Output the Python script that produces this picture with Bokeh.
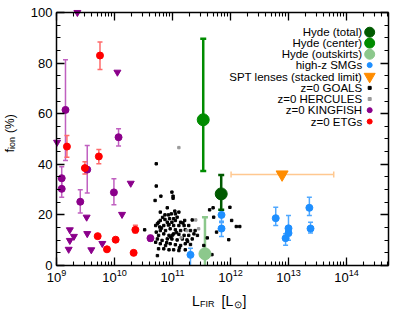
import numpy as np
from bokeh.plotting import figure
from bokeh.models import (ColumnDataSource, Whisker, TeeHead, LogAxis, LinearAxis,
                          LogTicker, SingleIntervalTicker, Range1d, CustomJSTickFormatter)
from bokeh.embed import file_html
from bokeh.resources import INLINE
from bokeh.core.properties import value

# ---------------- data: log10(L_FIR / L_sun), f_ion (%) ----------------
# KINGFISH detections (with error bars)
kf_logL = [9.155, 10.07, 9.53, 9.09, 9.09, 9.41, 9.99, 10.62]
kf_f    = [61.5, 50.7, 37.9, 34.5, 30.3, 25.2, 28.9, 10.8]
kf_lo   = [41.5, 47.2, 28.7, 30.5, 27.0, 20.7, 24.0, 9.7]
kf_hi   = [81.3, 54.0, 47.4, 39.0, 33.5, 29.9, 34.3, 11.9]
# KINGFISH upper limits
kfl_logL = [9.36, 10.05, 9.01, 10.28, 10.13, 9.52, 9.23, 9.23, 9.30, 9.21, 9.53, 9.60, 9.79]
kfl_f    = [100.0, 76.4, 48.7, 32.5, 20.2, 19.1, 14.1, 9.9, 11.5, 6.4, 12.6, 6.2, 8.7]
# z=0 ETGs
etg_logL = [9.75, 9.18, 9.73, 9.49, 10.36, 9.71, 9.87, 10.02, 10.33]
etg_f    = [83.0, 47.0, 43.1, 38.5, 14.1, 11.6, 6.4, 10.2, 5.0]
etg_err_logL = [9.75, 9.18, 9.73, 9.49, 10.36]
etg_err_lo   = [77.5, 42.8, 40.2, 36.2, 12.8]
etg_err_hi   = [88.3, 51.4, 45.8, 41.0, 15.9]
# high-z SMGs
smg_logL = [11.845, 11.845, 12.78, 12.95, 13.00, 13.00, 13.36, 13.38, 11.31]
smg_f    = [20.0, 14.6, 18.7, 10.8, 14.7, 12.8, 22.8, 14.6, 4.2]
smg_lo   = [17.5, 11.5, 15.8, 8.0, 12.0, 10.0, 19.8, 12.8, 0.0]
smg_hi   = [21.7, 17.0, 23.0, 12.5, 19.8, 15.0, 27.0, 17.1, 6.8]
# Hyde
hyde_names = ["total", "center", "outskirts"]
hyde_logL  = [11.84, 11.53, 11.56]
hyde_f     = [28.3, 57.6, 4.6]
hyde_lo    = [22.0, 37.3, 0.0]
hyde_hi    = [35.8, 89.6, 19.1]
# SPT lenses (stacked limit)
spt_logL = [12.89]
spt_f    = [36.0]
spt_logL_lo = [12.01]
spt_logL_hi = [13.78]
# z=0 GOALS
goals_logL = [10.72, 10.72, 10.80, 10.99, 11.01, 11.01, 10.70, 10.91, 10.79, 11.11,
              10.87, 10.93, 10.98, 11.05, 11.08, 11.02, 10.95, 10.87, 10.79, 10.76,
              10.74, 10.91, 10.99, 11.05, 11.14, 11.21, 11.34, 10.71, 10.78, 10.85,
              10.94, 11.02, 11.11, 11.20, 11.28, 10.79, 10.88, 10.96, 11.05, 11.14,
              11.22, 11.31, 11.39, 10.72, 10.76, 10.85, 10.94, 11.02, 11.11, 11.20,
              11.28, 11.37, 11.43, 10.74, 10.82, 10.91, 10.99, 11.08, 11.17, 11.25,
              11.34, 10.71, 10.79, 10.88, 10.96, 11.05, 11.14, 11.22, 11.31, 10.76,
              10.85, 10.94, 11.02, 11.11, 11.22, 10.74, 10.52, 11.70, 11.64, 11.71,
              11.76, 11.97, 11.99, 12.02, 12.10, 12.16, 11.60, 11.68, 11.54, 10.83,
              10.97, 11.07, 10.90, 11.18, 10.81, 11.00, 11.12, 10.93, 11.26, 11.04]
goals_f    = [40.2, 31.4, 27.4, 29.0, 27.4, 26.6, 25.7, 22.8, 21.1, 21.1,
              20.0, 20.0, 20.4, 20.4, 19.1, 18.5, 18.5, 18.2, 17.8, 17.1,
              16.5, 17.1, 17.1, 17.8, 17.1, 17.8, 18.0, 15.8, 15.2, 15.8,
              16.2, 15.8, 15.8, 15.8, 15.8, 13.8, 13.8, 14.5, 14.1, 13.8,
              14.1, 13.8, 13.8, 13.2, 11.9, 12.5, 11.9, 12.5, 12.3, 11.9,
              11.9, 12.5, 11.9, 10.5, 9.9, 10.5, 10.5, 10.1, 10.5, 10.1,
              10.5, 9.2, 8.6, 7.9, 8.6, 8.2, 7.9, 8.6, 8.3, 6.6,
              6.6, 6.2, 6.2, 5.9, 6.2, 3.9, 14.1, 22.8, 22.0, 19.1,
              13.2, 10.2, 23.0, 17.8, 15.4, 15.4, 10.9, 4.3, 7.9, 19.0,
              11.2, 13.0, 9.0, 16.8, 14.8, 12.0, 7.0, 16.0, 9.5, 21.5]
# z=0 HERCULES
herc_logL = [11.11, 11.40, 11.25, 11.45, 11.15]
herc_f    = [46.6, 18.0, 13.8, 14.5, 11.0]

# axis extent and legend
x_lim = [9.0, 14.72]
y_lim = [0.0, 100.0]
leg_labels = ["Hyde (total)", "Hyde (center)", "Hyde (outskirts)", "high-z SMGs",
              "SPT lenses (stacked limit)", "z=0 GOALS", "z=0 HERCULES",
              "z=0 KINGFISH", "z=0 ETGs"]

# ---------------- styles ----------------
C_HT, C_HC, C_HO = "#005a00", "#008c00", "#8cc88c"
C_SMG, C_SMG_E = "#1e8fff", "#4fa8ff"
C_SPT, C_SPT_E = "#ff8c00", "#ffc890"
C_KF, C_KF_E = "#8b008b", "#c060c0"
C_ETG, C_ETG_E = "#ff0000", "#ff6a6a"
C_GOALS, C_HERC = "#000000", "#9a9a9a"
FONT = "Liberation Sans"

def L(a):
    return [10 ** v for v in a]

# the frame fills the whole canvas; the axes are drawn at fixed data locations
p = figure(width=407, height=316, x_axis_type="log",
           x_range=Range1d(10 ** 8.0345, 10 ** 15.052), y_range=Range1d(-20.16, 104.74),
           x_axis_location=None, y_axis_location=None,
           output_backend="svg", toolbar_location=None, min_border=0)
p.grid.visible = False
p.outline_line_color = None
p.background_fill_color = "white"
p.border_fill_color = "white"

def style_axis(ax, labels=True):
    ax.axis_line_width = 1.5
    ax.axis_line_color = "black"
    ax.major_tick_in = 8
    ax.major_tick_out = 0
    ax.minor_tick_in = 4
    ax.minor_tick_out = 0
    ax.major_tick_line_width = 1.3
    ax.minor_tick_line_width = 1.1
    ax.major_label_text_font = FONT
    ax.major_label_text_font_size = "13px"
    ax.major_label_text_color = "black"
    ax.major_label_standoff = 4
    if not labels:
        ax.formatter = CustomJSTickFormatter(code="return ''")
        ax.major_label_text_font_size = "0px"
        ax.major_label_standoff = 0

xb = (10 ** x_lim[0], 10 ** x_lim[1])
bax = LogAxis(ticker=LogTicker(num_minor_ticks=10), fixed_location=y_lim[0], bounds=xb)
style_axis(bax)
p.add_layout(bax, "below")
tax = LogAxis(ticker=LogTicker(num_minor_ticks=10), fixed_location=y_lim[1], bounds=xb)
style_axis(tax, labels=False)
p.add_layout(tax, "above")
lax = LinearAxis(ticker=SingleIntervalTicker(interval=20, num_minor_ticks=4),
                 fixed_location=xb[0], bounds=tuple(y_lim))
style_axis(lax)
p.add_layout(lax, "left")
rax = LinearAxis(ticker=SingleIntervalTicker(interval=20, num_minor_ticks=4),
                 fixed_location=xb[1], bounds=tuple(y_lim))
style_axis(rax, labels=False)
p.add_layout(rax, "right")

def vbars(xs, lo, hi, color, lw=1.5, head=5):
    src = ColumnDataSource(dict(x=L(xs), lo=lo, hi=hi))
    lh = [TeeHead(size=head, line_color=color, line_width=lw) for _ in range(2)]
    w = Whisker(base="x", lower="lo", upper="hi", source=src, dimension="height",
                line_color=color, line_width=lw, upper_head=lh[0], lower_head=lh[1])
    p.add_layout(w)
    return w

# error bars
vbars(kf_logL, kf_lo, kf_hi, C_KF_E)
vbars(etg_err_logL, etg_err_lo, etg_err_hi, C_ETG_E)
vbars(smg_logL[:-1], smg_lo[:-1], smg_hi[:-1], C_SMG_E)
w = vbars(smg_logL[-1:], smg_lo[-1:], smg_hi[-1:], C_SMG_E)
w.lower_head = None
vbars([hyde_logL[0]], [hyde_lo[0]], [hyde_hi[0]], C_HT, lw=2.5, head=6)
vbars([hyde_logL[1]], [hyde_lo[1]], [hyde_hi[1]], C_HC, lw=2.5, head=6)
w = vbars([hyde_logL[2]], [hyde_lo[2]], [hyde_hi[2]], C_HO, lw=2.5, head=6)
w.lower_head = None
spt_src = ColumnDataSource(dict(y=spt_f, lo=L(spt_logL_lo), hi=L(spt_logL_hi)))
p.add_layout(Whisker(base="y", lower="lo", upper="hi", source=spt_src, dimension="width",
                     line_color=C_SPT_E, line_width=1.5,
                     upper_head=TeeHead(size=6, line_color=C_SPT_E, line_width=1.5),
                     lower_head=TeeHead(size=6, line_color=C_SPT_E, line_width=1.5)))

# points
p.scatter(L(goals_logL), goals_f, size=2.4, color=C_GOALS, marker="square")
p.scatter(L(herc_logL), herc_f, size=2.4, color=C_HERC, marker="square")
p.scatter(L(kfl_logL), kfl_f, size=7, color=C_KF, marker="inverted_triangle")
p.scatter(L(kf_logL), kf_f, size=7, color=C_KF)
p.scatter(L(etg_logL), etg_f, size=7, color=C_ETG)
p.scatter(L(smg_logL), smg_f, size=7, color=C_SMG)
p.scatter(L(hyde_logL), hyde_f, size=12, color=[C_HT, C_HC, C_HO])
p.scatter(L(spt_logL), spt_f, size=12, color=C_SPT, marker="inverted_triangle")

# legend (custom: text right-aligned, marker to the right)
leg_y = [92.2, 87.9, 83.5, 79.2, 74.7, 70.2, 65.8, 61.4, 56.9]
leg_colors = [C_HT, C_HC, C_HO, C_SMG, C_SPT, C_GOALS, C_HERC, C_KF, C_ETG]
leg_sizes = [10, 10, 10, 5, 11, 3, 3, 5, 5]
leg_markers = ["circle", "circle", "circle", "circle", "inverted_triangle",
               "square", "square", "circle", "circle"]
p.text(x=[10 ** 14.27] * len(leg_labels), y=leg_y, text=leg_labels, text_align="right",
       text_baseline="middle", text_font=value(FONT), text_font_size="11.5px", text_color="black")
p.scatter(x=[10 ** 14.40] * len(leg_labels), y=leg_y, size=leg_sizes, color=leg_colors,
          marker=leg_markers)

# axis titles with sub-scripts
def title_part(lx, y, t, size, angle=0.0):
    p.text(x=[10 ** lx], y=[y], text=[t], text_font=value(FONT), text_font_size=size,
           angle=angle, text_align="left", text_baseline="alphabetic", text_color="black")

title_part(11.336, -14.1, "L", "14px")
title_part(11.474, -15.3, "FIR", "9px")
title_part(11.845, -14.1, "[L", "14px")
title_part(12.052, -15.3, "\u2299", "10px")
title_part(12.207, -14.1, "]", "14px")

title_part(8.198, 44.7, "f", "13px", angle=np.pi / 2)
title_part(8.241, 46.0, "ion", "9px", angle=np.pi / 2)
title_part(8.198, 52.4, "(%)", "12px", angle=np.pi / 2)

open("out.html", "w").write(file_html(p, INLINE))
